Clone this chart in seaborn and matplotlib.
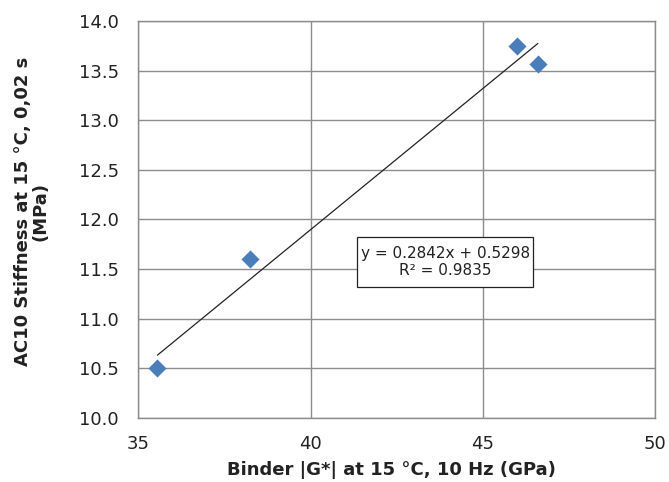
import numpy as np
import pandas as pd
import matplotlib
matplotlib.use("Agg")
import matplotlib.pyplot as plt
from matplotlib.patches import Rectangle
import seaborn as sns

# Binder modulus vs. mixture stiffness
binder_g = [35.55, 38.25, 46.0, 46.6]
ac10_stiffness = [10.5, 11.6, 13.75, 13.57]

# Linear trendline coefficients and fit quality
slope = 0.2842
intercept = 0.5298
r_squared = 0.9835

x_ticks = [35, 40, 45, 50]
y_ticks = [10.0, 10.5, 11.0, 11.5, 12.0, 12.5, 13.0, 13.5, 14.0]

sns.set_style("white")
plt.rcParams["font.family"] = ["DejaVu Sans"]

df = pd.DataFrame({"G": binder_g, "S": ac10_stiffness})

fig = plt.figure(figsize=(6.69, 4.82), dpi=100)
ax = fig.add_axes([0.2070, 0.1328, 0.7720, 0.8237])

grid_c = "#8c8c8c"
text_c = "#222222"
ax.set_xlim(35, 50)
ax.set_ylim(10, 14)
ax.set_xticks(x_ticks)
ax.set_yticks(y_ticks)
ax.set_xticklabels([str(v) for v in x_ticks])
ax.set_yticklabels([f"{v:.1f}" for v in y_ticks])
ax.grid(True, color=grid_c, linewidth=1.0)
ax.set_axisbelow(True)
for s in ax.spines.values():
    s.set_color(grid_c)
    s.set_linewidth(1.0)
ax.tick_params(axis="both", direction="out", length=5, width=1, color=grid_c,
               labelsize=13, labelcolor=text_c)
ax.tick_params(axis="y", pad=9)
ax.tick_params(axis="x", pad=7)

# Trendline across the range of the data
xs = np.array([min(binder_g), max(binder_g)])
ax.plot(xs, slope * xs + intercept, color=text_c, linewidth=0.9, zorder=2)

sns.scatterplot(data=df, x="G", y="S", ax=ax, marker="D", s=85,
                color="#4a7ebb", edgecolor="#4a7ebb", linewidth=0, zorder=3)

# Equation label with its frame
ax.add_patch(Rectangle((41.35, 11.32), 5.12, 0.50, facecolor="white",
                       edgecolor=text_c, linewidth=0.9, zorder=4))
ax.text(43.92, 11.57, f"y = {slope}x + {intercept}\nR² = {r_squared}",
        ha="center", va="center", fontsize=11, color=text_c,
        multialignment="center", linespacing=1.2, zorder=5)

ax.set_xlabel("Binder |G*| at 15 °C, 10 Hz (GPa)", fontsize=13,
              fontweight="bold", color=text_c, va="center")
ax.xaxis.set_label_coords(0.49, -0.131)
ax.set_ylabel("AC10 Stiffness at 15 °C, 0,02 s\n(MPa)", fontsize=13,
              fontweight="bold", color=text_c, va="center",
              multialignment="center", linespacing=1.0)
ax.yaxis.set_label_coords(-0.207, 0.52)

fig.savefig("out.png", dpi=100, facecolor="white")
